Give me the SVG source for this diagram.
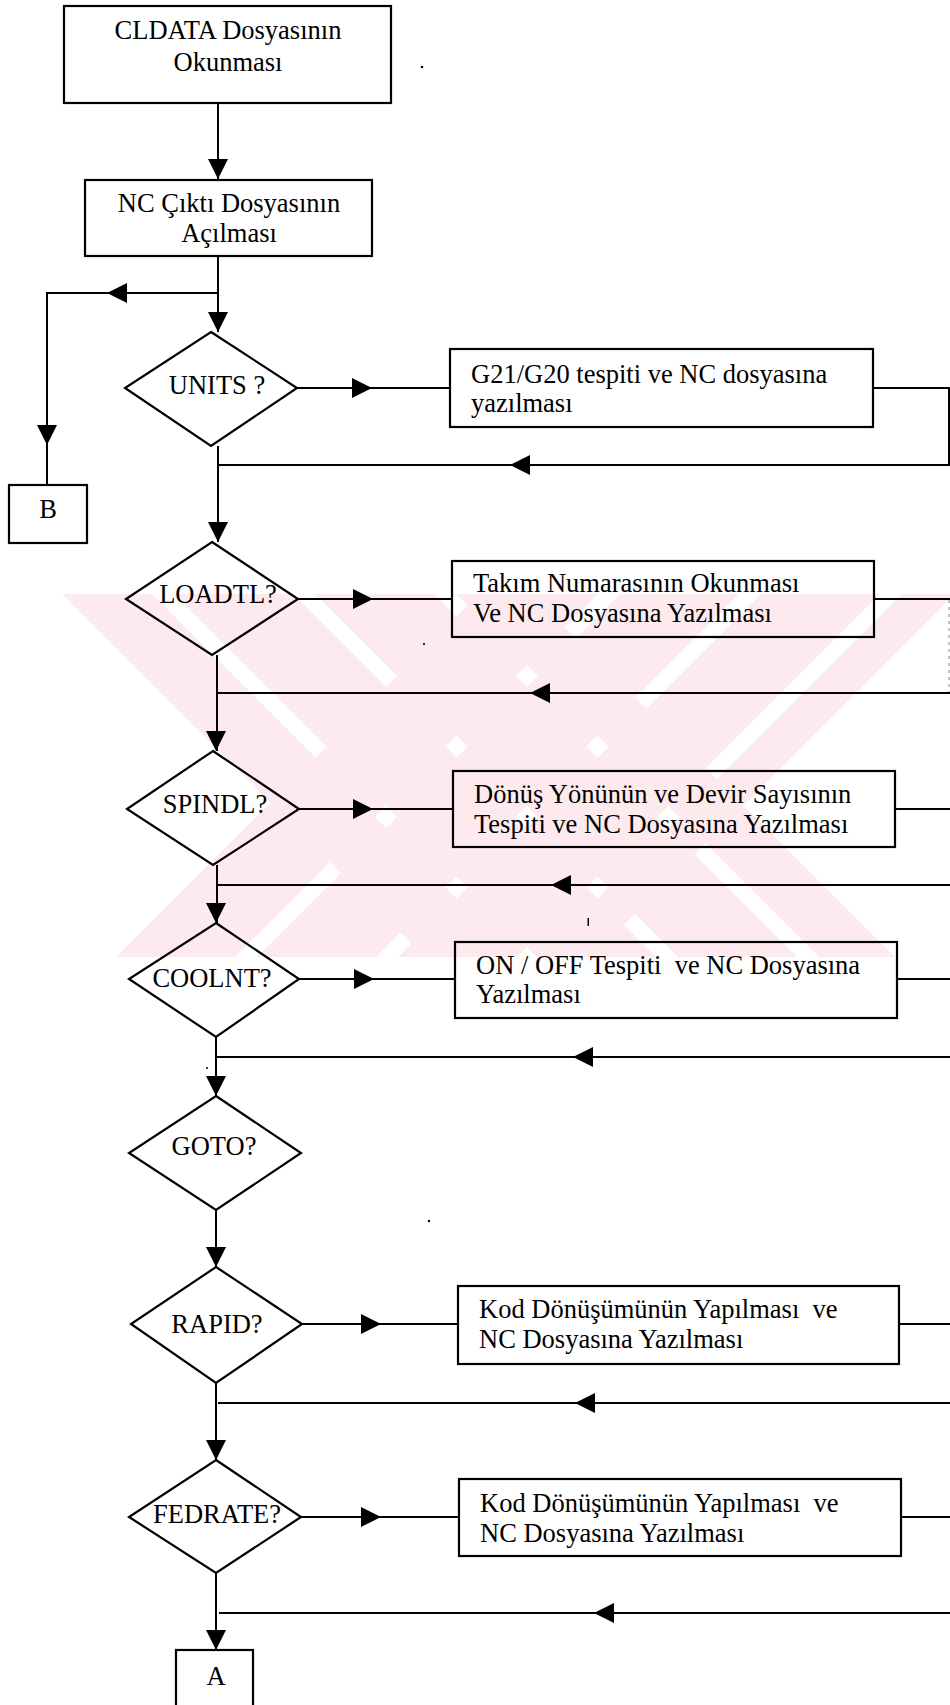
<svg xmlns="http://www.w3.org/2000/svg" xmlns:xlink="http://www.w3.org/1999/xlink" width="950" height="1705" viewBox="0 0 950 1705">
  <style>
    .box { fill: none; stroke: #000; stroke-width: 2.2; }
    .dec { fill: none; stroke: #000; stroke-width: 2.2; stroke-linejoin: miter; }
    .ln { fill: none; stroke: #000; stroke-width: 2; }
    .t { font-family: "Liberation Serif", "Times New Roman", serif; font-size: 26.5px; fill: #000; }
    .c { text-anchor: middle; }
    .ah { fill: #000; }
    .wm { fill: #fdeaee; }
  </style>
  <defs>
    <!-- solid arrowhead pointing along +x, tip at the origin -->
    <path id="ah" class="ah" d="M0,0 L-20,-10 L-20,10 Z"/>
  </defs>

  <rect width="950" height="1705" fill="#fff"/>

  <!-- faint striped emblem behind the flow: two crossing bands of stripes -->
  <g id="watermark" class="wm">
    <polygon points="62,594 152,594 515,957 425,957"/>
    <polygon points="174,594 293,594 656,957 537,957"/>
    <polygon points="315,594 434,594 797,957 678,957"/>
    <polygon points="456,594 532,594 895,957 819,957"/>
    <polygon points="116,957 235,957 598,594 479,594"/>
    <polygon points="257,957 376,957 739,594 620,594"/>
    <polygon points="398,957 517,957 880,594 761,594"/>
    <polygon points="539,957 592,957 955,594 902,594"/>
  </g>

  <!-- connectors -->
  <g id="connectors">
    <path class="ln" d="M218,103 V180"/>
    <use xlink:href="#ah" transform="translate(218,179) rotate(90)"/>

    <path class="ln" d="M218,256 V332"/>
    <use xlink:href="#ah" transform="translate(218,332) rotate(90)"/>

    <path class="ln" d="M218,293 H47 V485"/>
    <use xlink:href="#ah" transform="translate(107,293) rotate(180)"/>
    <use xlink:href="#ah" transform="translate(47,445) rotate(90)"/>

    <path class="ln" d="M297,388 H450"/>
    <use xlink:href="#ah" transform="translate(372,388)"/>
    <path class="ln" d="M873,388 H949 V465 H218"/>
    <use xlink:href="#ah" transform="translate(510,465) rotate(180)"/>

    <path class="ln" d="M218,446 V542"/>
    <use xlink:href="#ah" transform="translate(218,542) rotate(90)"/>

    <path class="ln" d="M298,599 H452"/>
    <use xlink:href="#ah" transform="translate(373,599)"/>
    <path class="ln" d="M874,599 H950"/>
    <path d="M949,600 V692" fill="none" stroke="#888" stroke-width="1" stroke-dasharray="3 4"/>
    <path class="ln" d="M950,693 H217"/>
    <use xlink:href="#ah" transform="translate(530,693) rotate(180)"/>

    <path class="ln" d="M217,655 V751"/>
    <use xlink:href="#ah" transform="translate(216,751) rotate(90)"/>

    <path class="ln" d="M299,809 H453"/>
    <use xlink:href="#ah" transform="translate(373,809)"/>
    <path class="ln" d="M895,809 H950"/>
    <path class="ln" d="M950,885 H217"/>
    <use xlink:href="#ah" transform="translate(551,885) rotate(180)"/>

    <path class="ln" d="M217,865 V923"/>
    <use xlink:href="#ah" transform="translate(216,923) rotate(90)"/>

    <path class="ln" d="M299,979 H455"/>
    <use xlink:href="#ah" transform="translate(374,979)"/>
    <path class="ln" d="M897,979 H950"/>
    <path class="ln" d="M950,1057 H216"/>
    <use xlink:href="#ah" transform="translate(573,1057) rotate(180)"/>

    <path class="ln" d="M216,1037 V1096"/>
    <use xlink:href="#ah" transform="translate(216,1096) rotate(90)"/>

    <path class="ln" d="M216,1210 V1267"/>
    <use xlink:href="#ah" transform="translate(216,1267) rotate(90)"/>

    <path class="ln" d="M302,1324 H458"/>
    <use xlink:href="#ah" transform="translate(381,1324)"/>
    <path class="ln" d="M899,1324 H950"/>
    <path class="ln" d="M950,1403 H218"/>
    <use xlink:href="#ah" transform="translate(575,1403) rotate(180)"/>

    <path class="ln" d="M216,1383 V1460"/>
    <use xlink:href="#ah" transform="translate(216,1460) rotate(90)"/>

    <path class="ln" d="M301,1517 H459"/>
    <use xlink:href="#ah" transform="translate(381,1517)"/>
    <path class="ln" d="M901,1517 H950"/>
    <path class="ln" d="M950,1613 H219"/>
    <use xlink:href="#ah" transform="translate(594,1613) rotate(180)"/>

    <path class="ln" d="M216,1573 V1650"/>
    <use xlink:href="#ah" transform="translate(216,1650) rotate(90)"/>
  </g>

  <!-- process and decision nodes -->
  <g id="n-cldata">
    <rect class="box" x="64" y="6" width="327" height="97"/>
    <text class="t c" x="228" y="39">CLDATA Dosyasının</text>
    <text class="t c" x="228" y="71">Okunması</text>
  </g>

  <g id="n-nc-open">
    <rect class="box" x="85" y="180" width="287" height="76"/>
    <text class="t c" x="229" y="212">NC Çıktı Dosyasının</text>
    <text class="t c" x="229" y="242">Açılması</text>
  </g>

  <g id="n-b">
    <rect class="box" x="9" y="485" width="78" height="58"/>
    <text class="t c" x="48" y="518">B</text>
  </g>

  <g id="n-units">
    <polygon class="dec" points="211,332 297,388 211,446 125,388"/>
    <text class="t c" x="217" y="394">UNITS ?</text>
  </g>

  <g id="n-units-write">
    <rect class="box" x="450" y="349" width="423" height="78"/>
    <text class="t" x="471" y="383">G21/G20 tespiti ve NC dosyasına</text>
    <text class="t" x="471" y="412">yazılması</text>
  </g>

  <g id="n-loadtl">
    <polygon class="dec" points="212,542 298,599 212,655 126,599"/>
    <text class="t c" x="218" y="603">LOADTL?</text>
  </g>

  <g id="n-loadtl-write">
    <rect class="box" x="452" y="561" width="422" height="76"/>
    <text class="t" x="473" y="592">Takım Numarasının Okunması</text>
    <text class="t" x="473" y="622">Ve NC Dosyasına Yazılması</text>
  </g>

  <g id="n-spindl">
    <polygon class="dec" points="213,751 299,809 213,865 127,809"/>
    <text class="t c" x="215" y="813">SPINDL?</text>
  </g>

  <g id="n-spindl-write">
    <rect class="box" x="453" y="771" width="442" height="76"/>
    <text class="t" x="474" y="803">Dönüş Yönünün ve Devir Sayısının</text>
    <text class="t" x="474" y="833">Tespiti ve NC Dosyasına Yazılması</text>
  </g>

  <g id="n-coolnt">
    <polygon class="dec" points="216,923 299,979 216,1037 129,979"/>
    <text class="t c" x="212" y="987">COOLNT?</text>
  </g>

  <g id="n-coolnt-write">
    <rect class="box" x="455" y="942" width="442" height="76"/>
    <text class="t" x="476" y="974" xml:space="preserve">ON / OFF Tespiti  ve NC Dosyasına</text>
    <text class="t" x="476" y="1003">Yazılması</text>
  </g>

  <g id="n-goto">
    <polygon class="dec" points="216,1096 301,1153 216,1210 129,1153"/>
    <text class="t c" x="214" y="1155">GOTO?</text>
  </g>

  <g id="n-rapid">
    <polygon class="dec" points="216,1267 302,1324 216,1383 131,1324"/>
    <text class="t c" x="217" y="1333">RAPID?</text>
  </g>

  <g id="n-rapid-write">
    <rect class="box" x="458" y="1286" width="441" height="78"/>
    <text class="t" x="479" y="1318" xml:space="preserve">Kod Dönüşümünün Yapılması  ve</text>
    <text class="t" x="479" y="1348">NC Dosyasına Yazılması</text>
  </g>

  <g id="n-fedrate">
    <polygon class="dec" points="216,1460 301,1517 216,1573 129,1517"/>
    <text class="t c" x="217" y="1523">FEDRATE?</text>
  </g>

  <g id="n-fedrate-write">
    <rect class="box" x="459" y="1479" width="442" height="77"/>
    <text class="t" x="480" y="1512" xml:space="preserve">Kod Dönüşümünün Yapılması  ve</text>
    <text class="t" x="480" y="1542">NC Dosyasına Yazılması</text>
  </g>

  <g id="n-a">
    <rect class="box" x="176" y="1650" width="77" height="70"/>
    <text class="t c" x="216" y="1685">A</text>
  </g>

  <!-- small print specks -->
  <g id="specks" fill="#000">
    <circle cx="422" cy="67" r="1.3"/>
    <circle cx="424" cy="644" r="1.1"/>
    <rect x="587.5" y="918" width="1.5" height="8"/>
    <circle cx="207" cy="1068" r="1"/>
    <circle cx="429" cy="1221" r="1.2"/>
  </g>
</svg>
